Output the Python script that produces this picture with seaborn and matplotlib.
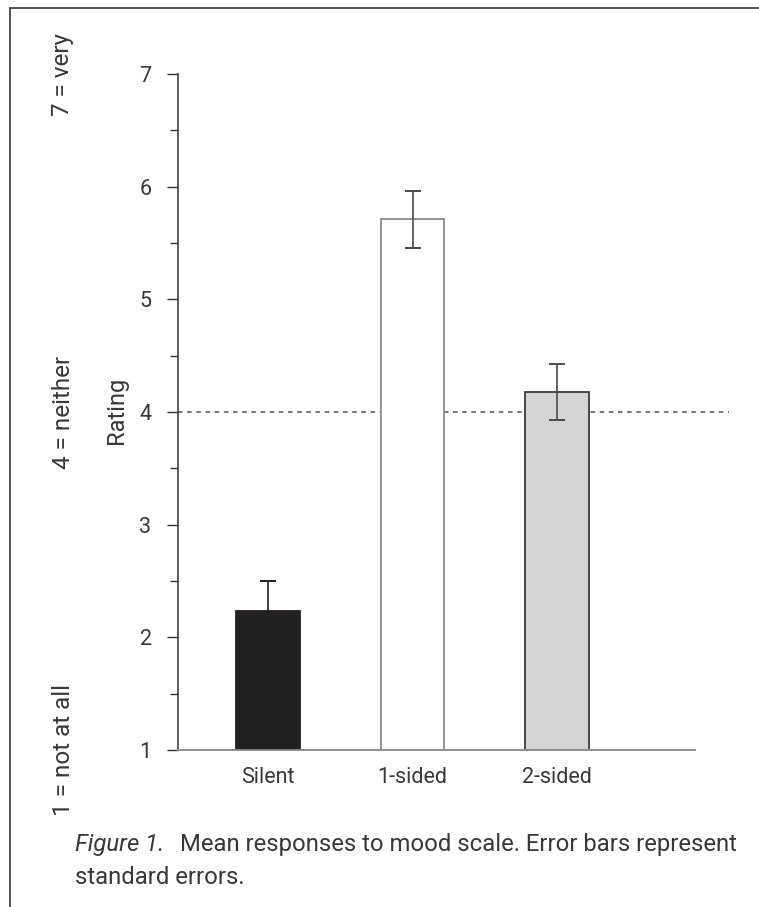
import matplotlib
matplotlib.use("Agg")
import matplotlib.pyplot as plt
import matplotlib.transforms as mtransforms
from matplotlib.lines import Line2D
import seaborn as sns
import pandas as pd

# data
conditions = ["Silent", "1-sided", "2-sided"]
means = [2.23, 5.71, 4.18]
std_errors = [0.27, 0.25, 0.25]
bar_colors = ["#231f20", "#ffffff", "#d3d4d6"]
edge_colors = ["#231f20", "#8a8a8a", "#3c3c3c"]
err_colors = ["#231f20", "#4a4a4a", "#4a4a4a"]
y_ticks = [1, 2, 3, 4, 5, 6, 7]
scale_labels = {7: "7 = very", 4: "4 = neither", 1: "1 = not at all"}

sns.set_style("white")
plt.rcParams["font.family"] = ["Roboto", "DejaVu Sans"]
text_col = "#383838"

W, H = 759, 907
fig = plt.figure(figsize=(W / 100, H / 100), dpi=100)
ax = fig.add_axes([178 / W, 1 - 750 / H, (730 - 178) / W, (750 - 74) / H])

df = pd.DataFrame({"cond": conditions, "mean": means})
sns.barplot(data=df, x="cond", y="mean", hue="cond", palette=bar_colors,
            width=0.44, legend=False, ax=ax, zorder=2)
for patch, ec in zip(ax.patches, edge_colors):
    patch.set_edgecolor(ec)
    patch.set_linewidth(1.3)

for i, (m, se, c) in enumerate(zip(means, std_errors, err_colors)):
    ax.errorbar(i, m, yerr=se, fmt="none", ecolor=c, elinewidth=1.2,
                capsize=6, capthick=1.4, zorder=3)

# neutral reference line at 4
ax.plot([-0.62, 3.19], [4, 4], ls=(0, (3, 3)), color="#555555", lw=1.1,
        zorder=1, clip_on=False)

ax.set_xlim(-0.623, 3.197)
ax.set_ylim(1, 7)
ax.set_yticks(y_ticks)
ax.set_yticks([t + 0.5 for t in y_ticks[:-1]], minor=True)
ax.set_xlabel("")
ax.set_ylabel("")

for s in ["top", "right"]:
    ax.spines[s].set_visible(False)
ax.spines["left"].set_color("#333333")
ax.spines["left"].set_linewidth(1.1)
ax.spines["bottom"].set_color("#888888")
ax.spines["bottom"].set_linewidth(1.3)
ax.spines["bottom"].set_bounds(-0.623, 2.955)

ax.tick_params(axis="y", which="major", direction="out", length=8, width=1,
               color="#333333", labelsize=15.5, labelcolor=text_col, pad=11, left=True)
ax.tick_params(axis="y", which="minor", direction="out", length=6, width=1,
               color="#333333", left=True)
ax.tick_params(axis="x", length=0, labelsize=15.5, labelcolor=text_col, pad=12)

# rating axis title and scale anchors
fig.text(117 / W, 1 - 410 / H, "Rating", rotation=90, ha="center", va="center",
         fontsize=17, color=text_col)
trans = mtransforms.blended_transform_factory(fig.transFigure, ax.transData)
for val, lab in scale_labels.items():
    ax.text(63 / W, val, lab, transform=trans, rotation=90, ha="center",
            va="center", fontsize=17.5, color=text_col, clip_on=False)

# caption
fig.text(75 / W, 1 - 845 / H, "Figure 1.", style="italic", fontsize=17.2,
         color=text_col, va="center")
fig.text(180 / W, 1 - 845 / H, "Mean responses to mood scale. Error bars represent",
         fontsize=17.2, color=text_col, va="center")
fig.text(75 / W, 1 - 878 / H, "standard errors.", fontsize=17.2, color=text_col,
         va="center")

# frame around the figure (left and top)
fig.add_artist(Line2D([10 / W, 10 / W], [0, 1 - 8 / H], transform=fig.transFigure,
                      color="#444444", lw=1.3))
fig.add_artist(Line2D([10 / W, 1], [1 - 8 / H, 1 - 8 / H], transform=fig.transFigure,
                      color="#444444", lw=1.3))

fig.savefig("out.png", dpi=100)
